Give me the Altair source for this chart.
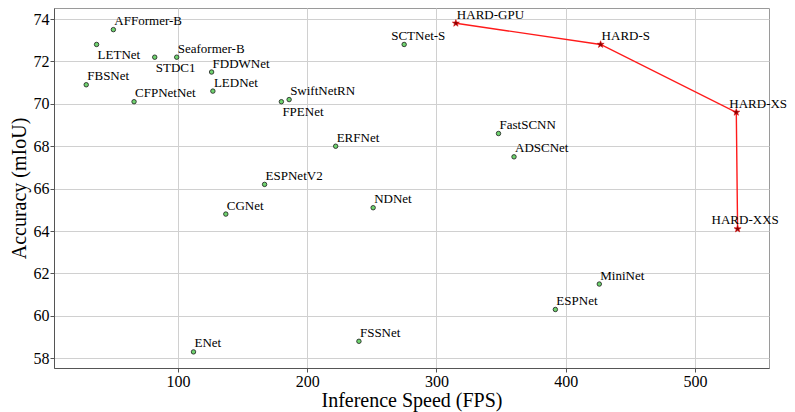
import altair as alt
import pandas as pd

# ---- data ----
other_names = ["AFFormer-B", "LETNet", "STDC1", "Seaformer-B", "FDDWNet", "FBSNet",
               "LEDNet", "CFPNetNet", "FPENet", "SwiftNetRN", "ESPNetV2", "CGNet",
               "NDNet", "ENet", "FSSNet", "SCTNet-S", "ERFNet", "FastSCNN", "ADSCNet",
               "MiniNet", "ESPNet"]
other_fps = [50, 37, 82, 99, 126, 29, 127, 66, 180, 186, 167, 137,
             251, 112, 240, 275, 222, 348, 360, 426, 392]
other_miou = [73.5, 72.8, 72.2, 72.2, 71.5, 70.9, 70.6, 70.1, 70.1, 70.2, 66.2, 64.8,
              65.1, 58.3, 58.8, 72.8, 68.0, 68.6, 67.5, 61.5, 60.3]

hard_names = ["HARD-GPU", "HARD-S", "HARD-XS", "HARD-XXS"]
hard_fps = [315, 427, 532, 533]
hard_miou = [73.8, 72.8, 69.6, 64.1]

x_ticks = [100, 200, 300, 400, 500]
y_ticks = [58, 60, 62, 64, 66, 68, 70, 72, 74]

# label placement groups (style)
LABEL_BELOW = ["LETNet", "STDC1", "FPENet"]
LABEL_SHIFT = {"SCTNet-S": -13, "HARD-XXS": -26, "HARD-XS": -7}

FONT = "Liberation Serif"

others = pd.DataFrame({"name": other_names, "fps": other_fps, "miou": other_miou})
hard = pd.DataFrame({"name": hard_names, "fps": hard_fps, "miou": hard_miou,
                     "order": list(range(len(hard_names)))})
labels = pd.concat([others[["name", "fps", "miou"]], hard[["name", "fps", "miou"]]],
                   ignore_index=True)

xs = alt.Scale(domain=[4.06, 557.3], nice=False, zero=False)
ys = alt.Scale(domain=[57.54, 74.52], nice=False, zero=False)

X = alt.X("fps:Q", scale=xs, title="Inference Speed (FPS)",
          axis=alt.Axis(values=x_ticks, grid=True, tickSize=4, labelPadding=1,
                        titlePadding=1))
Y = alt.Y("miou:Q", scale=ys, title="Accuracy (mIoU)",
          axis=alt.Axis(values=y_ticks, grid=True, tickSize=4, labelPadding=1,
                        titlePadding=4))

pts = alt.Chart(others).mark_point(
    shape="circle", filled=True, size=20, fill="#6fd36f", stroke="#1a1a1a",
    strokeWidth=0.8, opacity=1
).encode(x=X, y=Y)

line = alt.Chart(hard).mark_line(color="#ff1a1a", strokeWidth=1.4).encode(
    x=alt.X("fps:Q", scale=xs), y=alt.Y("miou:Q", scale=ys), order="order:Q")

STAR = ("M0,-1L0.235,-0.324L0.951,-0.309L0.380,0.124L0.588,0.809L0,0.4"
        "L-0.588,0.809L-0.380,0.124L-0.951,-0.309L-0.235,-0.324Z")
stars = alt.Chart(hard).mark_point(
    shape=STAR, filled=True, size=55, fill="#8b0000", stroke="#e01010",
    strokeWidth=0.6, opacity=1
).encode(x=alt.X("fps:Q", scale=xs), y=alt.Y("miou:Q", scale=ys))

special = LABEL_BELOW + list(LABEL_SHIFT.keys())
base_text = alt.Chart(labels)

def text_layer(names_filter, dx, dy):
    return base_text.transform_filter(names_filter).mark_text(
        font=FONT, fontSize=13, color="black", align="left",
        baseline="alphabetic", dx=dx, dy=dy
    ).encode(x=alt.X("fps:Q", scale=xs), y=alt.Y("miou:Q", scale=ys),
             text="name:N")

t_default = text_layer(~alt.FieldOneOfPredicate(field="name", oneOf=special), 1, -4.5)
t_below = text_layer(alt.FieldOneOfPredicate(field="name", oneOf=LABEL_BELOW), 1, 14.5)
shift_layers = [
    text_layer(alt.FieldEqualPredicate(field="name", equal=n), d, -4.5)
    for n, d in LABEL_SHIFT.items()
]

chart = alt.layer(pts, line, stars, t_default, t_below, *shift_layers).properties(
    width=715, height=360,
    background="white",
    autosize=alt.AutoSizeParams(type="none"),
    padding={"left": 46, "top": 0, "right": 18, "bottom": 44},
).configure_view(
    stroke="#9a9a9a", strokeWidth=1
).configure_axis(
    labelFont=FONT, titleFont=FONT, labelFontSize=16, titleFontSize=20,
    labelColor="black", titleColor="black", titleFontWeight="normal",
    gridColor="#d0d0d0", gridWidth=1, domainColor="#555555", domainWidth=1,
    tickColor="#555555", tickWidth=1
)

chart.save("out.html", embed_options={"renderer": "svg", "actions": False})
